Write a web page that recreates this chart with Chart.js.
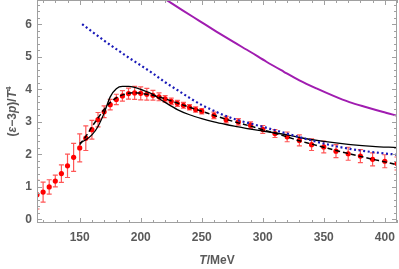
<!DOCTYPE html>
<html>
<head>
<meta charset="utf-8">
<script src="https://cdn.jsdelivr.net/npm/chart.js@4"></script>
<style>
  html, body { margin: 0; padding: 0; background: #fff; }
  #wrap { width: 399px; height: 269px; }
</style>
</head>
<body>
<div id="wrap"><canvas id="myChart" width="399" height="269"></canvas></div>
<script>
// lattice points: T, (e-3p)/T^4, error
const latticeT = [115, 120, 125, 130, 135, 140, 145, 150, 155, 160, 165, 170, 175, 180, 185, 190, 195, 200, 205, 210, 215, 220, 225, 230, 235, 240, 245, 250, 260, 270, 280, 290, 300, 310, 320, 330, 340, 350, 360, 370, 380, 390, 400, 410];
const latticeVal = [0.76, 0.84, 1.00, 1.18, 1.41, 1.65, 1.91, 2.20, 2.50, 2.76, 3.07, 3.31, 3.53, 3.69, 3.80, 3.87, 3.89, 3.88, 3.85, 3.82, 3.77, 3.71, 3.63, 3.57, 3.51, 3.45, 3.38, 3.33, 3.20, 3.07, 3.00, 2.90, 2.77, 2.64, 2.54, 2.43, 2.30, 2.23, 2.10, 2.02, 1.95, 1.85, 1.79, 1.72];
const latticeErr = [0.44, 0.31, 0.22, 0.18, 0.27, 0.36, 0.43, 0.43, 0.38, 0.29, 0.22, 0.18, 0.16, 0.16, 0.16, 0.17, 0.2, 0.2, 0.18, 0.15, 0.12, 0.1, 0.1, 0.09, 0.09, 0.08, 0.08, 0.08, 0.1, 0.1, 0.1, 0.1, 0.12, 0.12, 0.15, 0.17, 0.18, 0.18, 0.2, 0.2, 0.2, 0.2, 0.2, 0.2];

// black solid curve
const solidT = [150, 155, 160, 165, 170, 175, 180, 185, 190, 195, 200, 210, 215, 220, 230, 240, 250, 260, 270, 280, 290, 300, 320, 330, 350, 370, 390, 410];
const solidVal = [2.35, 2.45, 2.60, 2.86, 3.27, 3.77, 4.02, 4.09, 4.09, 4.06, 4.00, 3.85, 3.72, 3.60, 3.38, 3.22, 3.10, 3.00, 2.92, 2.85, 2.78, 2.72, 2.60, 2.52, 2.40, 2.31, 2.25, 2.21];

// black dashed curve
const dashT = [150, 155, 160, 165, 170, 175, 180, 185, 190, 195, 200, 210, 220, 230, 240, 250, 260, 270, 280, 290, 300, 310, 320, 330, 340, 350, 360, 370, 380, 390, 400, 410];
const dashVal = [2.30, 2.55, 2.85, 3.12, 3.38, 3.60, 3.74, 3.83, 3.88, 3.90, 3.88, 3.82, 3.71, 3.58, 3.45, 3.33, 3.20, 3.08, 2.97, 2.87, 2.76, 2.65, 2.54, 2.42, 2.32, 2.22, 2.12, 2.03, 1.94, 1.85, 1.77, 1.68];

// blue dotted curve
const dotT = [152, 160, 170, 180, 190, 200, 210, 220, 230, 240, 250, 260, 270, 280, 290, 300, 320, 340, 360, 380, 400, 410];
const dotVal = [6.01, 5.78, 5.50, 5.24, 4.98, 4.74, 4.49, 4.22, 3.98, 3.74, 3.52, 3.34, 3.18, 3.05, 2.95, 2.85, 2.64, 2.43, 2.25, 2.12, 2.03, 1.99];

// purple curve
const purpleT = [215, 234, 248, 262, 276, 290, 303, 317, 330, 344, 358, 371, 385, 398, 411];
const purpleVal = [6.90, 6.44, 6.11, 5.78, 5.46, 5.15, 4.85, 4.55, 4.28, 4.03, 3.80, 3.61, 3.45, 3.31, 3.18];

const xTicks = [150, 200, 250, 300, 350, 400];
const yTicks = [0, 1, 2, 3, 4, 5, 6];

const ctx = document.getElementById('myChart');

function pts(xs, ys) {
    return xs.map(function(x, i) {
        return { x: x, y: ys[i] };
    });
}

const frameColor = '#a0a0a0';
const textColor = '#5a5a5a';

// frame with inward ticks, drawn from the scales
const framePlugin = {
    id: 'frame',
    afterDraw(chart) {
        const c = chart.ctx;
        const a = chart.chartArea;
        const xs = chart.scales.x;
        const ys = chart.scales.y;
        c.save();
        c.strokeStyle = frameColor;
        c.lineWidth = 1;
        c.strokeRect(a.left + 0.5, a.top + 0.5, a.right - a.left - 1, a.bottom - a.top - 1);
        c.beginPath();
        for (let v = 120; v <= 410; v += 10) {
            const px = Math.round(xs.getPixelForValue(v)) + 0.5;
            const len = (v % 50 === 0) ? 5 : 3;
            c.moveTo(px, a.bottom); c.lineTo(px, a.bottom - len);
            c.moveTo(px, a.top); c.lineTo(px, a.top + len);
        }
        for (let k = 0; k <= 33; k++) {
            const v = k * 0.2;
            const py = Math.round(ys.getPixelForValue(v)) + 0.5;
            const len = (k % 5 === 0) ? 5 : 3;
            c.moveTo(a.left, py); c.lineTo(a.left + len, py);
            c.moveTo(a.right, py); c.lineTo(a.right - len, py);
        }
        c.stroke();
        c.restore();
    }
};

// error bars for the lattice points
const errorPlugin = {
    id: 'errbars',
    beforeDatasetsDraw(chart) {
        const c = chart.ctx;
        const xs = chart.scales.x;
        const ys = chart.scales.y;
        c.save();
        c.beginPath();
        c.rect(chart.chartArea.left, chart.chartArea.top, chart.chartArea.right - chart.chartArea.left, chart.chartArea.bottom - chart.chartArea.top);
        c.clip();
        c.strokeStyle = 'rgba(255,30,30,0.75)';
        c.lineWidth = 1.2;
        latticeT.forEach(function(t, i) {
            const px = xs.getPixelForValue(t);
            const y1 = ys.getPixelForValue(latticeVal[i] + latticeErr[i]);
            const y2 = ys.getPixelForValue(latticeVal[i] - latticeErr[i]);
            c.beginPath();
            c.moveTo(px, y1); c.lineTo(px, y2);
            c.moveTo(px - 2.5, y1); c.lineTo(px + 2.5, y1);
            c.moveTo(px - 2.5, y2); c.lineTo(px + 2.5, y2);
            c.stroke();
        });
        c.restore();
    }
};

// axis titles with italic symbols
function drawParts(c, parts, x, y) {
    parts.forEach(function(p) {
        c.font = p.font;
        c.fillText(p.t, x, y + (p.dy || 0));
        x += c.measureText(p.t).width;
    });
}
function partsWidth(c, parts) {
    let w = 0;
    parts.forEach(function(p) { c.font = p.font; w += c.measureText(p.t).width; });
    return w;
}

const titlePlugin = {
    id: 'titles',
    afterDraw(chart) {
        const c = chart.ctx;
        const a = chart.chartArea;
        const n = 'bold 12px "Liberation Sans", Arial, sans-serif';
        const it = 'italic bold 12px "Liberation Sans", Arial, sans-serif';
        const sup = 'bold 8px "Liberation Sans", Arial, sans-serif';
        c.save();
        c.fillStyle = textColor;
        c.textBaseline = 'alphabetic';
        const xParts = [{ t: 'T', font: it }, { t: '/MeV', font: n }];
        const xw = partsWidth(c, xParts);
        drawParts(c, xParts, (a.left + a.right) / 2 - xw / 2, 264);

        const yParts = [
            { t: '(', font: n }, { t: 'ε', font: it }, { t: '−3', font: n },
            { t: 'p', font: it }, { t: ')/', font: n }, { t: 'T', font: it },
            { t: '4', font: sup, dy: -5 }
        ];
        const yw = partsWidth(c, yParts);
        c.translate(16, (a.top + a.bottom) / 2);
        c.rotate(-Math.PI / 2);
        drawParts(c, yParts, -yw / 2, 0);
        c.restore();
    }
};

new Chart(ctx, {
    type: 'scatter',
    data: {
        datasets: [
            {
                label: 'purple',
                type: 'line',
                data: pts(purpleT, purpleVal),
                borderColor: '#a01cb0',
                borderWidth: 2,
                pointRadius: 0,
                cubicInterpolationMode: 'monotone',
                fill: false
            },
            {
                label: 'dotted',
                type: 'line',
                data: pts(dotT, dotVal),
                borderColor: '#1a1ab8',
                borderWidth: 2.2,
                borderDash: [2, 2.6],
                pointRadius: 0,
                cubicInterpolationMode: 'monotone',
                fill: false
            },
            {
                label: 'solid',
                type: 'line',
                data: pts(solidT, solidVal),
                borderColor: '#000000',
                borderWidth: 1.3,
                pointRadius: 0,
                cubicInterpolationMode: 'monotone',
                fill: false
            },
            {
                label: 'dashed',
                type: 'line',
                data: pts(dashT, dashVal),
                borderColor: '#000000',
                borderWidth: 1.5,
                borderDash: [5, 3],
                pointRadius: 0,
                cubicInterpolationMode: 'monotone',
                fill: false
            },
            {
                label: 'lattice',
                data: pts(latticeT, latticeVal),
                backgroundColor: '#ff0000',
                borderColor: '#ff0000',
                pointRadius: 2.6,
                borderWidth: 0
            }
        ]
    },
    options: {
        responsive: false,
        animation: false,
        events: [],
        layout: { autoPadding: false, padding: { top: 0, right: 2, bottom: 0, left: 0 } },
        plugins: {
            legend: { display: false },
            tooltip: { enabled: false }
        },
        scales: {
            x: {
                type: 'linear',
                min: 115,
                max: 410,
                afterFit: function(scale) {
                    scale.height = 46;
                    scale.paddingLeft = 0;
                    scale.paddingRight = 0;
                },
                afterBuildTicks: function(scale) {
                    scale.ticks = xTicks.map(function(v) { return { value: v }; });
                },
                grid: { display: false, drawTicks: false, tickLength: 0 },
                border: { display: false },
                ticks: {
                    color: textColor,
                    padding: 7,
                    maxRotation: 0,
                    font: { family: '"Liberation Sans", Arial, sans-serif', size: 12, weight: 'bold' }
                }
            },
            y: {
                type: 'linear',
                min: -0.11,
                max: 6.75,
                afterFit: function(scale) {
                    scale.width = 37;
                    scale.paddingTop = 0;
                    scale.paddingBottom = 0;
                },
                afterBuildTicks: function(scale) {
                    scale.ticks = yTicks.map(function(v) { return { value: v }; });
                },
                grid: { display: false, drawTicks: false, tickLength: 0 },
                border: { display: false },
                ticks: {
                    color: textColor,
                    padding: 5,
                    font: { family: '"Liberation Sans", Arial, sans-serif', size: 12, weight: 'bold' }
                }
            }
        }
    },
    plugins: [errorPlugin, framePlugin, titlePlugin]
});
</script>
</body>
</html>
